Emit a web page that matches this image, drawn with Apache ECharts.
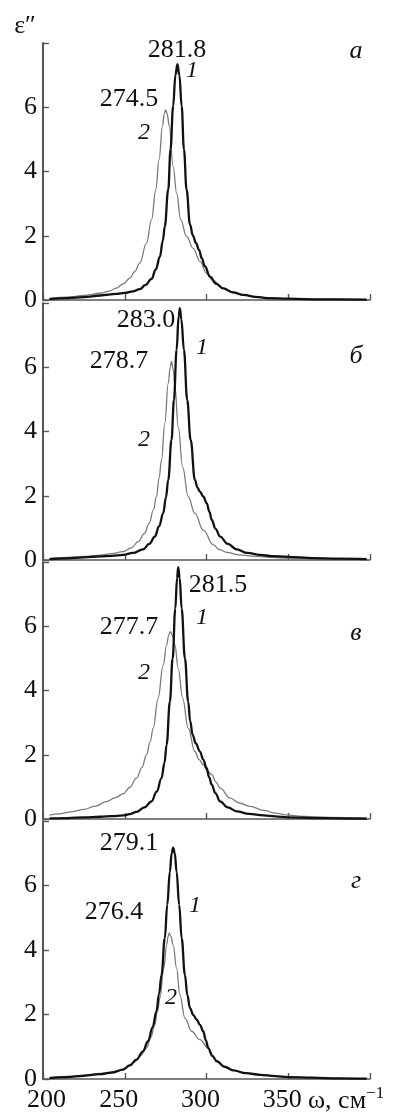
<!DOCTYPE html>
<html>
<head>
<meta charset="utf-8">
<script src="https://cdn.jsdelivr.net/npm/echarts@6/dist/echarts.min.js"></script>
<style>
  html, body { margin: 0; padding: 0; background: #fff; }
  #chart { width: 396px; height: 1117px; }
</style>
</head>
<body>
<div id="chart"></div>
<script>
// spectra eps''(omega), curve 1 = thick, curve 2 = thin, panels а б в г
const panelA1 = [[204,0.03],[215,0.06],[225,0.09],[235,0.14],[245,0.19],[250,0.22],[255,0.27],[259.2,0.34],[262.5,0.46],[266.4,0.66],[269,0.95],[271.5,1.35],[273.3,1.85],[274.5,2.29],[276.6,3.44],[278,4.69],[279.6,6.04],[281,7.0],[282.2,7.34],[283.4,7.0],[284.8,6.04],[286.2,4.69],[287.8,3.44],[289.9,2.35],[291.7,2.0],[293.6,1.77],[295.5,1.55],[297.1,1.3],[299,1.05],[302.1,0.73],[306,0.5],[310.3,0.36],[316,0.24],[322.6,0.16],[330,0.1],[337,0.06],[350,0.04],[370,0.02],[398,0.01]]
const panelA2 = [[204,0.05],[215,0.09],[225,0.14],[235,0.21],[240,0.27],[244.9,0.37],[249,0.5],[253.1,0.68],[256,0.88],[259.2,1.15],[263.3,1.77],[266.4,2.5],[269,3.44],[271,4.38],[273.1,5.42],[274.2,5.8],[275,5.92],[275.9,5.8],[277.2,5.42],[279.6,4.17],[281.7,3.33],[284.2,2.5],[287.8,1.98],[291.9,1.61],[296,1.2],[300.1,0.83],[304,0.6],[310.3,0.36],[316,0.24],[322.6,0.16],[330,0.1],[337,0.06],[350,0.04],[370,0.02],[398,0.01]]

const panelB1 = [[204,0.03],[215,0.05],[225,0.08],[235,0.11],[242,0.13],[249,0.16],[255,0.22],[261.2,0.33],[265,0.5],[268.4,0.73],[271,1.05],[273.5,1.45],[275.2,1.95],[276.6,2.49],[278.6,3.74],[280.1,4.98],[281.7,6.54],[283,7.6],[283.7,7.84],[284.6,7.5],[286.2,6.54],[288.2,4.98],[290.3,3.74],[292.9,2.49],[294.5,2.25],[296,2.13],[298,1.98],[300.1,1.77],[301.8,1.5],[303.2,1.25],[305.5,0.97],[308.3,0.73],[313,0.5],[318.5,0.33],[325,0.22],[332.8,0.16],[340,0.12],[350,0.1],[365,0.06],[380,0.04],[398,0.03]]
const panelB2 = [[204,0.05],[215,0.08],[225,0.11],[235,0.15],[242,0.2],[249,0.26],[254,0.38],[258.2,0.57],[262,0.82],[264.9,1.14],[267.5,1.55],[269.4,1.97],[271,2.55],[272.5,3.12],[274.5,4.26],[276.6,5.5],[277.8,6.0],[278.6,6.18],[279.6,5.95],[280.7,5.4],[282.7,4.15],[285.4,2.9],[288.8,1.97],[292.9,1.45],[298,0.93],[304.2,0.47],[308,0.32],[312.4,0.24],[320,0.16],[330,0.11],[340,0.08],[350,0.06],[365,0.04],[380,0.03],[398,0.02]]

const panelC1 = [[204,0.02],[215,0.03],[225,0.05],[235,0.07],[242,0.09],[249,0.11],[253,0.15],[257.2,0.22],[262,0.36],[266.4,0.55],[269.5,0.85],[272.5,1.27],[274.3,1.75],[275.6,2.31],[277.6,3.65],[279.3,5.0],[280.9,6.55],[282,7.5],[282.7,7.84],[283.6,7.5],[284.8,6.55],[286.8,5.0],[288.8,3.65],[290,3.05],[291.5,2.62],[293.5,2.35],[296,2.1],[298,1.85],[300.1,1.58],[301.6,1.3],[303.2,1.07],[305.5,0.8],[308.3,0.55],[313,0.36],[318.5,0.24],[326,0.16],[334.9,0.11],[342,0.08],[350,0.05],[365,0.03],[380,0.02],[398,0.01]]
const panelC2 = [[204,0.12],[210,0.16],[218.3,0.23],[225,0.3],[232,0.4],[238.8,0.54],[244,0.66],[249,0.78],[253,0.98],[257.2,1.27],[260.5,1.6],[263.3,2.0],[265.5,2.4],[267.4,2.83],[270.4,3.76],[273.5,4.79],[275.6,5.41],[277,5.75],[278,5.83],[279.2,5.7],[280.7,5.41],[282.7,4.69],[285.4,3.76],[288.8,2.83],[292.9,2.1],[295.5,1.85],[298,1.69],[300.5,1.5],[303.2,1.38],[305.8,1.15],[308.3,0.96],[314.4,0.65],[320.6,0.49],[326.7,0.39],[335,0.27],[342,0.18],[350,0.12],[360,0.08],[375,0.05],[398,0.03]]

const panelD1 = [[204,0.03],[215,0.06],[225,0.1],[235,0.15],[242,0.2],[249,0.29],[253,0.42],[257.2,0.6],[261,0.85],[264.3,1.17],[267,1.6],[269.4,2.1],[271,2.65],[272.5,3.23],[274.5,4.37],[276,5.4],[277.6,6.43],[278.7,7.0],[279.6,7.17],[280.6,7.0],[281.7,6.43],[283.3,5.4],[284.8,4.37],[286.8,3.23],[288.3,2.6],[289.9,2.2],[292,1.98],[294,1.84],[296,1.68],[298,1.48],[299.6,1.2],[301.1,0.96],[303.5,0.72],[306.3,0.55],[311,0.38],[316.4,0.27],[324,0.18],[332.8,0.13],[342,0.09],[350,0.06],[365,0.04],[380,0.02],[398,0.01]]
const panelD2 = [[204,0.04],[215,0.08],[225,0.12],[235,0.17],[241,0.21],[246.9,0.26],[251,0.36],[255.1,0.5],[259.5,0.72],[263.3,0.96],[266,1.3],[268.4,1.68],[270,2.1],[271.5,2.51],[273.9,3.44],[275.6,4.16],[276.5,4.42],[277.2,4.52],[278.3,4.42],[279.6,4.16],[281.7,3.44],[283.7,2.61],[286.8,1.89],[290.9,1.48],[296,1.22],[301.1,0.96],[303.5,0.72],[306.3,0.55],[311,0.38],[316.4,0.27],[324,0.18],[332.8,0.13],[342,0.09],[350,0.06],[365,0.04],[380,0.02],[398,0.01]]

const panels = [[panelA1, panelA2], [panelB1, panelB2], [panelC1, panelC2], [panelD1, panelD2]]
const letters = ['а', 'б', 'в', 'г']
// peak labels per panel: curve 1, curve 2
const peakText = [['281.8', '274.5'], ['283.0', '278.7'], ['281.5', '277.7'], ['279.1', '276.4']]
const yTicks = [0, 2, 4, 6]

const FONT = '"Liberation Serif", "Times New Roman", serif'
const tops = [43, 303, 562, 821]
const gridH = 257

const chart = echarts.init(document.getElementById('chart'))

const grids = [], xAxes = [], yAxes = [], series = []
tops.forEach((top, i) => {
  grids.push({ left: 43, right: 26, top: top, height: i === 3 ? 258 : gridH })
  xAxes.push({
    type: 'value', gridIndex: i, min: 200, max: 400, interval: 50,
    axisLine: { lineStyle: { color: '#555', width: 1.6 } },
    axisTick: { inside: true, length: 6, lineStyle: { color: '#555', width: 1.4 } },
    splitLine: { show: false },
    axisLabel: {
      show: i === 3, margin: 8, fontFamily: FONT, fontSize: 26, color: '#111',
      formatter: v => v === 400 ? '' : (v === 200 ? '{f|200}' : '{m|' + v + '}'),
      rich: {
        f: { fontFamily: FONT, fontSize: 26, color: '#111', padding: [0, 0, 0, 7] },
        m: { fontFamily: FONT, fontSize: 26, color: '#111', padding: [0, 12, 0, 0] }
      }
    }
  })
  yAxes.push({
    type: 'value', gridIndex: i, min: 0, max: 8, interval: 2,
    axisLine: { show: true, lineStyle: { color: '#555', width: 2 } },
    axisTick: { inside: true, length: 6, lineStyle: { color: '#555', width: 1.4 } },
    splitLine: { show: false },
    axisLabel: {
      margin: 6, fontFamily: FONT, fontSize: 26, color: '#111',
      formatter: v => yTicks.indexOf(v) >= 0 ? String(v) : ''
    }
  })
  series.push({
    type: 'line', xAxisIndex: i, yAxisIndex: i, data: panels[i][1],
    showSymbol: false, smooth: 0.4, smoothMonotone: 'x',
    lineStyle: { color: '#7a7a7a', width: 1.3 }, z: 2
  })
  series.push({
    type: 'line', xAxisIndex: i, yAxisIndex: i, data: panels[i][0],
    showSymbol: false, smooth: 0.4, smoothMonotone: 'x',
    lineStyle: { color: '#111', width: 2.3 }, z: 3
  })
})

function txt (x, y, s, size, italic) {
  return {
    type: 'text', x: x, y: y, silent: true,
    style: {
      text: s, fontFamily: FONT, fontSize: size, fontStyle: italic ? 'italic' : 'normal',
      fill: '#111', align: 'center', verticalAlign: 'middle'
    }
  }
}

// annotation positions (px)
const peakPos = [
  [[177, 50], [129, 99], [192, 71], [144, 133], [356, 51]],
  [[146, 320], [119, 361], [202, 348], [144, 440], [356, 356]],
  [[218, 585], [129, 627], [202, 618], [144, 673], [356, 633]],
  [[129, 843], [114, 912], [195, 906], [171, 998], [356, 881]]
]

const graphics = [txt(25, 26, 'ε″', 26, false)]
peakPos.forEach((p, i) => {
  graphics.push(txt(p[0][0], p[0][1], peakText[i][0], 26, false))
  graphics.push(txt(p[1][0], p[1][1], peakText[i][1], 26, false))
  graphics.push(txt(p[2][0], p[2][1], '1', 24, true))
  graphics.push(txt(p[3][0], p[3][1], '2', 24, true))
  graphics.push(txt(p[4][0], p[4][1], letters[i], 26, true))
})
graphics.push({
  type: 'text', x: 308, y: 1101, silent: true,
  style: {
    text: '{m|ω, см}{s|−1}', align: 'left', verticalAlign: 'middle',
    rich: {
      m: { fontFamily: FONT, fontSize: 26, fill: '#111' },
      s: { fontFamily: FONT, fontSize: 17, fill: '#111', verticalAlign: 'top', padding: [0, 0, 14, 0] }
    }
  }
})

chart.setOption({
  animation: false,
  grid: grids,
  xAxis: xAxes,
  yAxis: yAxes,
  series: series,
  graphic: graphics
})
</script>
</body>
</html>
